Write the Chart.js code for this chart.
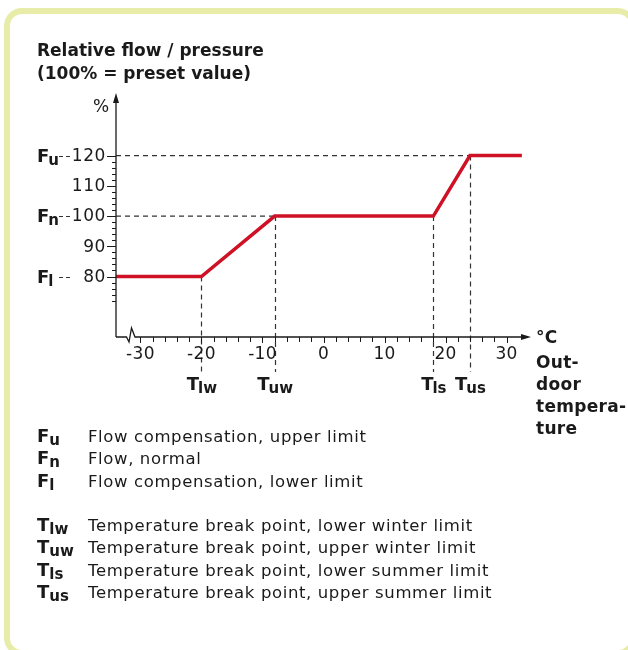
<!DOCTYPE html>
<html>
<head>
<meta charset="utf-8">
<script src="https://cdn.jsdelivr.net/npm/chart.js@4.4.1/dist/chart.umd.min.js"></script>
<style>
  html, body { margin: 0; padding: 0; background: #fff; }
  #wrap { position: relative; width: 628px; height: 650px; overflow: hidden; font-family: "DejaVu Sans", sans-serif; color: #1a1a1a; }
  #frame { position: absolute; left: 4px; top: 8px; width: 632px; height: 648px; border: 6px solid #e7eda9; border-radius: 18px; box-sizing: border-box; }
  #chart { position: absolute; left: 0; top: 0; }
  .title { position: absolute; left: 37px; top: 39px; font-weight: bold; font-size: 17px; line-height: 23px; letter-spacing: 0; }
  .legend { position: absolute; left: 37px; top: 425px; font-size: 16.5px; line-height: 22.3px; letter-spacing: 0.62px; }
  .legend .row { height: 22.3px; white-space: nowrap; }
  .legend .sym { display: inline-block; width: 51px; font-weight: bold; font-size: 18px; letter-spacing: 0; }
  .legend sub { font-size: 15px; vertical-align: -3px; line-height: 0; }
</style>
</head>
<body>
<div id="wrap">
  <div id="frame"></div>
  <canvas id="chart" width="628" height="650"></canvas>
  <div class="title">Relative flow / pressure<br>(100% = preset value)</div>
  <div class="legend">
    <div class="row"><span class="sym">F<sub>u</sub></span>Flow compensation, upper limit</div>
    <div class="row"><span class="sym">F<sub>n</sub></span>Flow, normal</div>
    <div class="row"><span class="sym">F<sub>l</sub></span>Flow compensation, lower limit</div>
    <div class="row"></div>
    <div class="row"><span class="sym">T<sub>lw</sub></span>Temperature break point, lower winter limit</div>
    <div class="row"><span class="sym">T<sub>uw</sub></span>Temperature break point, upper winter limit</div>
    <div class="row"><span class="sym">T<sub>ls</sub></span>Temperature break point, lower summer limit</div>
    <div class="row"><span class="sym">T<sub>us</sub></span>Temperature break point, upper summer limit</div>
  </div>
</div>
<script>
// curve: outdoor temperature (°C) -> relative flow (%)
const temps = [-34, -20, -8, 18, 24, 32.5];
const flow = [80, 80, 100, 100, 120, 120];

// axis ticks
const xTicks = [-30, -20, -10, 0, 10, 20, 30];
const yTicks = [80, 90, 100, 110, 120];

// limit markers
const fSubs = ['u', 'n', 'l'];
const fValues = [120, 100, 80];
const tSubs = ['lw', 'uw', 'ls', 'us'];
const tValues = [-20, -8, 18, 24];
const tLevels = [80, 100, 100, 120];

const ink = '#1a1a1a';
const font = '"DejaVu Sans", sans-serif';

function spaced(ctx, px) {
    if ('letterSpacing' in ctx) ctx.letterSpacing = px + 'px';
}

// symbol like F with a subscript, centred or left aligned at x
function drawSymbol(ctx, main, sub, x, y, align) {
    ctx.textBaseline = 'alphabetic';
    ctx.textAlign = 'left';
    spaced(ctx, 0);
    ctx.font = 'bold 18px ' + font;
    const w1 = ctx.measureText(main).width;
    ctx.font = 'bold 15px ' + font;
    const w2 = ctx.measureText(sub).width;
    let x0 = align === 'center' ? x - (w1 + w2) / 2 : x;
    ctx.font = 'bold 18px ' + font;
    ctx.fillText(main, x0, y + 6);
    ctx.font = 'bold 15px ' + font;
    ctx.fillText(sub, x0 + w1 - 1, y + 9);
}

const guides = {
    id: 'guides',
    beforeDatasetsDraw(chart) {
        const { ctx, scales: { x, y } } = chart;
        ctx.save();
        ctx.strokeStyle = '#333';
        ctx.lineWidth = 1.2;
        ctx.setLineDash([5, 4]);
        // horizontal guides from the axis to the break points
        [[120, 24], [100, -8]].forEach(([v, t]) => {
            ctx.beginPath();
            ctx.moveTo(x.left, y.getPixelForValue(v));
            ctx.lineTo(x.getPixelForValue(t), y.getPixelForValue(v));
            ctx.stroke();
        });
        // vertical guides down through the tick labels
        tValues.forEach((t, i) => {
            const px = Math.round(x.getPixelForValue(t)) + 0.5;
            ctx.beginPath();
            ctx.moveTo(px, y.getPixelForValue(tLevels[i]));
            ctx.lineTo(px, 372);
            ctx.stroke();
        });
        // short leaders before the percentage labels
        ctx.setLineDash([4, 3]);
        fValues.forEach(v => {
            const py = Math.round(y.getPixelForValue(v)) + 0.5;
            ctx.beginPath();
            ctx.moveTo(59, py);
            ctx.lineTo(72, py);
            ctx.stroke();
        });
        ctx.restore();
    }
};

const axes = {
    id: 'axes',
    afterDatasetsDraw(chart) {
        const { ctx, scales: { x, y }, chartArea: a } = chart;
        const ox = x.left, oy = y.bottom;
        ctx.save();
        ctx.strokeStyle = ink;
        ctx.fillStyle = ink;
        ctx.lineWidth = 1.3;

        // y axis with arrow
        ctx.beginPath();
        ctx.moveTo(ox, oy);
        ctx.lineTo(ox, a.top + 8);
        ctx.stroke();
        ctx.beginPath();
        ctx.moveTo(ox, a.top);
        ctx.lineTo(ox - 3, a.top + 10);
        ctx.lineTo(ox + 3, a.top + 10);
        ctx.closePath();
        ctx.fill();

        // x axis with break mark and arrow
        ctx.beginPath();
        ctx.moveTo(ox, oy);
        ctx.lineTo(ox + 10.5, oy);
        ctx.lineTo(ox + 13, oy + 5);
        ctx.lineTo(ox + 15.5, oy - 9);
        ctx.lineTo(ox + 19, oy);
        ctx.lineTo(a.right - 8, oy);
        ctx.stroke();
        ctx.beginPath();
        ctx.moveTo(a.right, oy);
        ctx.lineTo(a.right - 10, oy - 3);
        ctx.lineTo(a.right - 10, oy + 3);
        ctx.closePath();
        ctx.fill();

        // x ticks every 2 °C
        ctx.lineWidth = 1;
        for (let v = -30; v <= 30; v += 2) {
            const px = Math.round(x.getPixelForValue(v)) + 0.5;
            ctx.beginPath();
            ctx.moveTo(px, oy);
            ctx.lineTo(px, oy + (v % 10 === 0 ? 6 : 5));
            ctx.stroke();
        }
        // y ticks every 2 %
        for (let v = 72; v <= 120; v += 2) {
            const py = Math.round(y.getPixelForValue(v)) + 0.5;
            ctx.beginPath();
            ctx.moveTo(ox, py);
            ctx.lineTo(ox - (v % 10 === 0 ? 9 : 4), py);
            ctx.stroke();
        }

        // tick labels
        ctx.font = '17px ' + font;
        spaced(ctx, 0.3);
        ctx.textBaseline = 'middle';
        ctx.textAlign = 'center';
        xTicks.forEach(v => ctx.fillText(String(v), x.getPixelForValue(v), 355));
        ctx.textAlign = 'right';
        spaced(ctx, 0.6);
        yTicks.forEach(v => ctx.fillText(String(v), 106, y.getPixelForValue(v) + 1));
        spaced(ctx, 0);
        ctx.textAlign = 'left';
        ctx.fillText('%', 93, 108);

        // limit symbols
        fValues.forEach((v, i) => drawSymbol(ctx, 'F', fSubs[i], 37, y.getPixelForValue(v), 'left'));
        tValues.forEach((t, i) => drawSymbol(ctx, 'T', tSubs[i], x.getPixelForValue(t) + 1, 384, 'center'));

        // x axis title
        ctx.font = 'bold 17px ' + font;
        spaced(ctx, 0.3);
        ctx.textAlign = 'left';
        ctx.textBaseline = 'middle';
        ['°C', 'Out-', 'door', 'tempera-', 'ture'].forEach((s, i) => {
            ctx.fillText(s, 536, (i === 0 ? 339 : 342 + i * 22));
        });
        ctx.restore();
    }
};

new Chart(document.getElementById('chart'), {
    type: 'line',
    data: {
        datasets: [{
            data: temps.map((t, i) => ({ x: t, y: flow[i] })),
            borderColor: '#cf1126',
            borderWidth: 3.5,
            pointRadius: 0,
            tension: 0,
            clip: false
        }]
    },
    options: {
        responsive: false,
        animation: false,
        events: [],
        layout: { padding: { left: 116, top: 93, right: 97, bottom: 313 } },
        plugins: { legend: { display: false }, tooltip: { enabled: false } },
        scales: {
            x: { type: 'linear', min: -34, max: 34, display: false },
            y: { type: 'linear', min: 60, max: 140.7, display: false }
        }
    },
    plugins: [guides, axes]
});
</script>
</body>
</html>
